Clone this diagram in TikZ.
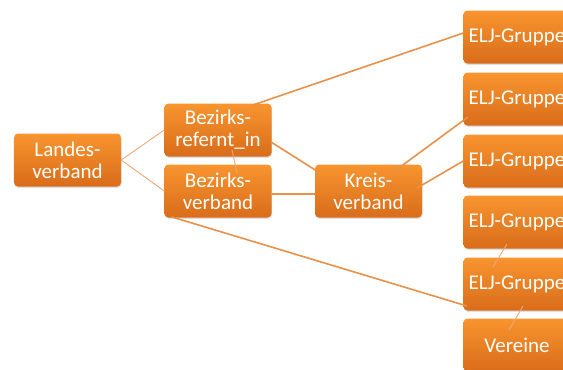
\documentclass[tikz,border=0pt]{standalone}
\usepackage{fontspec}
\setmainfont{Carlito}
\usetikzlibrary{calc,shadows}
\definecolor{boxtop}{HTML}{F8952F}
\definecolor{boxbot}{HTML}{D96C1A}
\definecolor{linethick}{HTML}{E8914A}
\definecolor{linethin}{HTML}{EDA877}
\tikzset{
  orgbox/.style={rectangle, rounded corners=4bp, minimum width=107bp, minimum height=53bp,
    inner sep=0pt, align=center, text=white, top color=boxtop, bottom color=boxbot,
    font=\fontsize{21bp}{22bp}\selectfont,
    drop shadow={opacity=0.25, shadow xshift=0.5bp, shadow yshift=-1.5bp}},
  thickline/.style={draw=linethick, line width=1.6bp},
  thinline/.style={draw=linethin, line width=0.9bp},
}
\begin{document}
\begin{tikzpicture}[x=1bp,y=-1bp]
\useasboundingbox (0,0) rectangle (563,369);
\clip (0,0) rectangle (563,369);
\node[orgbox] (landes) at (67.5,160) {Landes-\\verband};
\node[orgbox] (bref) at (218,130) {Bezirks-\\refernt\_in};
\node[orgbox] (bverb) at (218,191) {Bezirks-\\verband};
\node[orgbox] (kreis) at (368.5,191) {Kreis-\\verband};
\node[orgbox] (elj1) at (517,37) {ELJ-Gruppe};
\node[orgbox] (elj2) at (517,99) {ELJ-Gruppe};
\node[orgbox] (elj3) at (517,161) {ELJ-Gruppe};
\node[orgbox] (elj4) at (517,222) {ELJ-Gruppe};
\node[orgbox] (elj5) at (517,284) {ELJ-Gruppe};
\node[orgbox] (vereine) at (517,345) {Vereine};
% connectors
\draw[thinline] (landes.east) -- (bref.west);
\draw[thinline] (landes.east) -- (bverb.west);
\draw[thinline] ($(bref.center)+(14,20)$) -- ($(bverb.center)+(19,-18)$);
\draw[thickline] ($(bref.center)+(35,-25)$) -- ($(elj1.west)+(0,-4)$);
\draw[thickline] ($(bref.center)+(53,12)$) -- ($(kreis.center)+(-48.5,-18)$);
\draw[thickline] ($(bverb.east)+(0,3)$) -- ($(kreis.west)+(0,3)$);
\draw[thickline] ($(bverb.center)+(-46,26)$) -- ($(elj5.center)+(-50,22)$);
\draw[thickline] ($(kreis.center)+(23.5,-18)$) -- ($(elj2.center)+(-49,18)$);
\draw[thickline] ($(kreis.center)+(48.5,-3)$) -- (elj3.west);
\draw[thinline] ($(elj4.center)+(-10,22)$) -- ($(elj5.center)+(-24,-17)$);
\draw[thinline] ($(elj5.center)+(6,22)$) -- ($(vereine.center)+(-8,-15)$);
\end{tikzpicture}
\end{document}
